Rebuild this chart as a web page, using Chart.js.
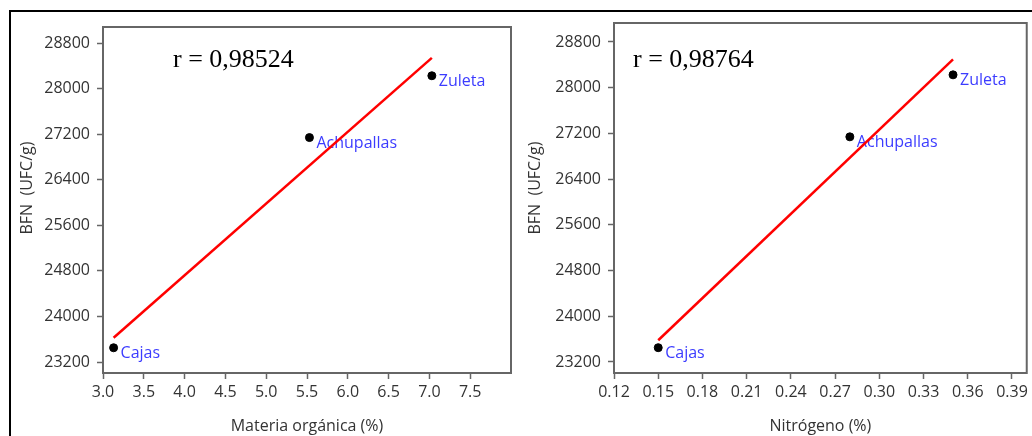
<!DOCTYPE html>
<html>
<head>
<meta charset="utf-8">
<script src="https://cdn.jsdelivr.net/npm/chart.js@4/dist/chart.umd.min.js"></script>
<style>
  html, body { margin: 0; padding: 0; background: #fff; width: 1032px; height: 436px; overflow: hidden; }
  #frame { position: absolute; left: 9px; top: 10px; width: 1060px; height: 460px; border: 2px solid #000; box-sizing: border-box; }
  canvas { position: absolute; top: 0; }
  #cMO { left: 0; }
  #cN { left: 516px; }
</style>
</head>
<body>
<div id="frame"></div>
<canvas id="cMO" width="516" height="436"></canvas>
<canvas id="cN" width="516" height="436"></canvas>
<script>
// Sampling sites and measured values
const sitios = ['Cajas', 'Achupallas', 'Zuleta'];
const bfn = [23450, 27140, 28225];            // BFN (UFC/g)
const materiaOrganica = [3.13, 5.53, 7.03];   // %
const nitrogeno = [0.15, 0.28, 0.35];         // %

// Least-squares fit line end values (BFN at the first and last site)
const ajusteMO = [23625, 28540];
const ajusteN = [23580, 28495];

// Axis tick labels
const yTicks = [23200, 24000, 24800, 25600, 26400, 27200, 28000, 28800];
const xTicksMO = [3.0, 3.5, 4.0, 4.5, 5.0, 5.5, 6.0, 6.5, 7.0, 7.5];
const xTicksN = [0.12, 0.15, 0.18, 0.21, 0.24, 0.27, 0.30, 0.33, 0.36, 0.39];

Chart.defaults.font.family = "'Open Sans', 'Noto Sans', sans-serif";
Chart.defaults.font.size = 16;
Chart.defaults.color = '#333';

const frameGrey = '#666';

// Draws the plot box, site names, r value and axis titles
const decor = {
  id: 'decor',
  beforeDatasetsDraw(chart, args, o) {
    const ctx = chart.ctx;
    const xs = chart.scales.x, ys = chart.scales.y;
    const pts = chart.data.datasets[1].data;
    ctx.save();
    ctx.fillStyle = '#3c3cff';
    ctx.font = "16px 'Open Sans', sans-serif";
    ctx.textBaseline = 'alphabetic';
    pts.forEach((p, i) => {
      ctx.fillText(sitios[i], xs.getPixelForValue(p.x) + 7, ys.getPixelForValue(p.y) + 10.5);
    });
    ctx.restore();
  },
  afterDraw(chart, args, o) {
    const ctx = chart.ctx, a = chart.chartArea;
    ctx.save();
    ctx.strokeStyle = frameGrey;
    ctx.lineWidth = 2;
    ctx.strokeRect(a.left, a.top, a.right - a.left, a.bottom - a.top);
    ctx.fillStyle = '#000';
    ctx.font = "26px 'Liberation Serif', 'Times New Roman', serif";
    ctx.textBaseline = 'alphabetic';
    ctx.fillText(o.r, o.rx, o.ry);
    ctx.fillStyle = '#333';
    ctx.font = "16px 'Open Sans', sans-serif";
    ctx.textAlign = 'center';
    ctx.textBaseline = 'middle';
    ctx.fillText(o.xTitle, (a.left + a.right) / 2, 426);
    ctx.translate(o.yTitleX, 188);
    ctx.rotate(-Math.PI / 2);
    ctx.fillText('BFN  (UFC/g)', 0, 0);
    ctx.restore();
  }
};

function makeChart(id, xVals, fit, xTicks, cfg) {
  const points = xVals.map((x, i) => ({ x: x, y: bfn[i] }));
  const line = [
    { x: xVals[0], y: fit[0] },
    { x: xVals[xVals.length - 1], y: fit[1] }
  ];
  return new Chart(document.getElementById(id), {
    type: 'scatter',
    data: {
      datasets: [
        { type: 'line', data: line, borderColor: '#ff0000', borderWidth: 2.5, pointRadius: 0, fill: false, order: 2 },
        { data: points, backgroundColor: '#000', borderColor: '#000', pointRadius: 4, order: 1 }
      ]
    },
    options: {
      responsive: false,
      animation: false,
      events: [],
      layout: { padding: { top: cfg.top, right: cfg.right, left: 0, bottom: 0 } },
      plugins: {
        legend: { display: false },
        tooltip: { enabled: false },
        decor: { r: cfg.r, rx: cfg.rx, ry: cfg.ry, xTitle: cfg.xTitle, yTitleX: cfg.yTitleX }
      },
      scales: {
        x: {
          type: 'linear',
          min: cfg.xMin, max: cfg.xMax,
          afterFit(s) { s.height = 436 - 373; },
          afterBuildTicks(s) { s.ticks = xTicks.map(v => ({ value: v })); },
          ticks: { padding: 4, color: '#333', maxRotation: 0, autoSkip: false,
                   callback: v => v.toFixed(cfg.dec) },
          grid: { drawOnChartArea: false, drawTicks: true, tickLength: 6, tickColor: frameGrey, tickWidth: 1.5 },
          border: { display: false }
        },
        y: {
          type: 'linear',
          min: 23007, max: cfg.yMax,
          afterFit(s) { s.width = cfg.left; },
          afterBuildTicks(s) { s.ticks = yTicks.map(v => ({ value: v })); },
          ticks: { padding: 7, color: '#333', autoSkip: false, callback: v => String(v) },
          grid: { drawOnChartArea: false, drawTicks: true, tickLength: 6, tickColor: frameGrey, tickWidth: 1.5 },
          border: { display: false }
        }
      }
    },
    plugins: [decor]
  });
}

makeChart('cMO', materiaOrganica, ajusteMO, xTicksMO, {
  top: 27, right: 4, left: 103, xMin: 3.0, xMax: 8.0, yMax: 29081, dec: 1,
  r: 'r = 0,98524', rx: 173, ry: 67, xTitle: 'Materia orgánica (%)', yTitleX: 27
});
makeChart('cN', nitrogeno, ajusteN, xTicksN, {
  top: 23, right: 4, left: 98, xMin: 0.12, xMax: 0.40, yMax: 29132, dec: 2,
  r: 'r = 0,98764', rx: 117, ry: 67, xTitle: 'Nitrógeno (%)', yTitleX: 19
});
</script>
</body>
</html>
